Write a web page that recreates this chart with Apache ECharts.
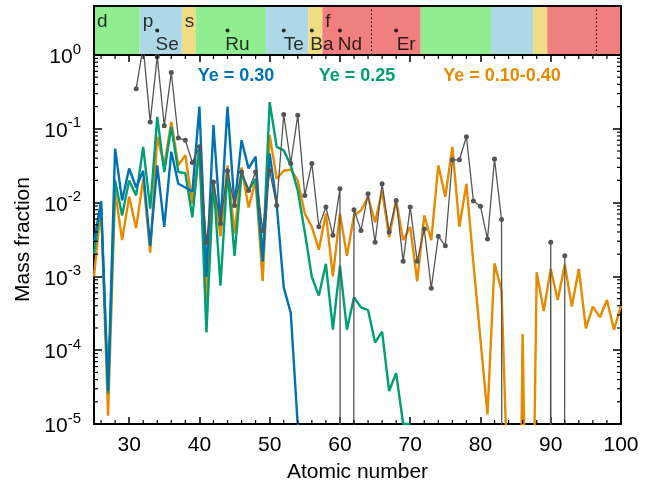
<!DOCTYPE html>
<html><head><meta charset="utf-8">
<script src="https://cdn.jsdelivr.net/npm/echarts@6/dist/echarts.min.js"></script>
<style>html,body{margin:0;padding:0;background:#fff}#c{width:645px;height:486px}</style>
</head><body><div id="c"></div>
<script>
// Atomic numbers (x categories)
const Z = [25,26,27,28,29,30,31,32,33,34,35,36,37,38,39,40,41,42,43,44,45,46,47,48,49,50,
  51,52,53,54,55,56,57,58,59,60,61,62,63,64,65,66,67,68,69,70,71,72,73,74,75,
  76,77,78,79,80,81,82,83,84,85,86,87,88,89,90,91,92,93,94,95,96,97,98,99,100];

// Ye = 0.30
const ye030 = [0.003,0.0102,2.8e-5,0.054,0.0107,0.029,0.016,0.027,0.0026,0.032,0.0047,0.049,0.018,0.016,0.014,0.2,
  0.00098,0.112,0.005,0.2,0.009,0.07,0.029,0.042,0.0016,0.046,
  0.0095,7.1e-4,3.2e-4,9.5e-6,null,null,null,null,null,null,null,null,null,null,null,null,null,null,null,null,null,null,null,null,null,
  null,null,null,null,null,null,null,null,null,null,null,null,null,null,null,null,null,null,null,null,null,null,null,null,null];

// Ye = 0.25
const ye025 = [0.002,0.0105,2.6e-5,0.020,0.0067,0.020,0.0125,0.057,0.0083,0.145,0.026,0.106,0.026,0.025,0.0063,0.057,
  1.74e-4,0.02,7.5e-4,0.027,0.0019,0.025,0.0147,0.021,0.0016,0.23,
  0.057,0.051,0.032,0.0146,0.004,9.8e-4,5.5e-4,0.00148,1.9e-4,0.0014,1.9e-4,5.2e-4,3.8e-4,3.5e-4,1.27e-4,1.78e-4,2.8e-5,4.9e-5,1.0e-5,1.0e-5,null,null,null,null,null,
  null,null,null,null,null,null,null,null,null,null,null,null,null,null,null,null,null,null,null,null,null,null,null,null,null];

// Ye = 0.10-0.40
const yeMix = [0.001,0.009,1.3e-5,0.0146,0.0031,0.012,0.0045,0.021,0.0021,0.078,0.032,0.124,0.032,0.044,0.0098,0.057,
  4.7e-4,0.019,0.0035,0.032,0.0038,0.03,0.0086,0.02,8.6e-4,0.082,
  0.021,0.027,0.028,0.02,0.0071,0.0047,0.0023,0.0071,0.0010,0.0071,0.0019,0.0067,0.0078,0.012,0.0054,0.0146,0.0034,0.0107,0.0031,0.0047,8.6e-4,0.0067,0.0031,0.032,0.012,
  0.057,0.0047,0.018,0.0015,1.4e-4,1.35e-5,0.0015,6.4e-4,6e-7,1e-12,1.66e-4,1.5e-10,0.00114,3.4e-4,0.00126,4.8e-4,0.00145,3.9e-4,0.00126,1.97e-4,3.9e-4,2.8e-4,4.8e-4,1.9e-4,4.0e-4];

// Solar r-process (0 = absent)
const solar = [null,null,null,null,null,null,0.35,1.3,0.124,0.95,0.11,0.58,0.075,0.07,0.035,0.057,
  0.0029,0.019,0.0052,0.027,0.0091,0.026,0.0146,0.026,0.0042,0.027,
  0.0091,0.156,0.034,0.153,0.0125,0.034,0.0047,0.0087,0.0036,0.0154,0,0.008,0.0042,0.0132,0.0029,0.018,0.004,0.0107,0.0016,0.0087,0.0016,0.0044,6.9e-4,0.0035,0.0026,
  0.038,0.038,0.078,0.0105,0.0089,0.0032,0.039,0.0059,0,0,0,0,0,0,0.0029,0,0.0019,null,null,null,null,null,null,null,null];

// Periodic-table blocks in the top band
const blockStart = [25, 31.5, 37.5, 39.5, 49.5, 55.5, 57.5, 71.5, 81.5, 87.5, 89.5];
const blockEnd   = [31.5, 37.5, 39.5, 49.5, 55.5, 57.5, 71.5, 81.5, 87.5, 89.5, 100];
const blockKind  = ['d','p','s','d','p','s','f','d','p','s','f'];
const blockLetterAt = [25, 31.5, 37.5, 57.5];
const blockLetters  = ['d','p','s','f'];
const dottedAt = [64.5, 96.5];
const elemZ    = [34, 44, 52, 56, 60, 68];
const elemName = ['Se','Ru','Te','Ba','Nd','Er'];

const kindColor = {d:'#90ee90', p:'#add8e6', s:'#eedd82', f:'#f08080'};
const C_BLUE = '#0072b2', C_GREEN = '#009e73', C_ORANGE = '#e68a00', C_GRAY = '#555555';

const pairs = arr => Z.map((z, i) => [z, arr[i] === null ? null : (arr[i] === 0 ? 1e-100 : arr[i])]);

const minorX = []; for (let z = 26; z < 100; z += 2) if (z % 10 !== 0) minorX.push(z);
const minorY = []; for (let k = -5; k < 0; k++) for (let m = 2; m <= 9; m++) minorY.push(m * Math.pow(10, k));

const chart = echarts.init(document.getElementById('c'), null, {renderer: 'canvas'});
const FONT = 'Liberation Sans, Arial, sans-serif';

function ln(x1, y1, x2, y2, w, dash) {
  return {type: 'line', shape: {x1, y1, x2, y2}, style: {stroke: '#000', lineWidth: w || 1, lineDash: dash || null}};
}

chart.setOption({
  animation: false,
  grid: [
    {left: 94, right: 24, top: 55, bottom: 62, containLabel: false, outerBoundsMode: 'none'},
    {left: 94, right: 24, top: 6, height: 49, containLabel: false, outerBoundsMode: 'none'}
  ],
  xAxis: [
    {gridIndex: 0, type: 'value', min: 25, max: 100, splitNumber: 8, position: 'bottom',
     name: 'Atomic number', nameLocation: 'middle', nameGap: 38,
     nameTextStyle: {fontSize: 21, color: '#000', fontFamily: FONT},
     axisLine: {lineStyle: {color: '#000', width: 2}},
     axisTick: {inside: true, length: 7, lineStyle: {color: '#000', width: 1.5}},
     axisLabel: {fontSize: 21, color: '#000', fontFamily: FONT, margin: 11,
       formatter: v => (v % 10 === 0 ? String(v) : '')},
     splitLine: {show: false}},
    {gridIndex: 0, type: 'value', min: 25, max: 100, splitNumber: 8, position: 'top',
     axisLine: {lineStyle: {color: '#000', width: 2}},
     axisTick: {inside: true, length: 7, lineStyle: {color: '#000', width: 1.5}},
     axisLabel: {show: false}, splitLine: {show: false}},
    {gridIndex: 1, type: 'value', min: 25, max: 100, show: false}
  ],
  yAxis: [
    {gridIndex: 0, type: 'log', logBase: 10, min: 1e-5, max: 1, position: 'left',
     name: 'Mass fraction', nameLocation: 'middle', nameGap: 54, nameRotate: 90,
     nameTextStyle: {fontSize: 21, color: '#000', fontFamily: FONT},
     axisLine: {lineStyle: {color: '#000', width: 2}},
     axisTick: {inside: true, length: 8, lineStyle: {color: '#000', width: 1.5}},
     axisLabel: {margin: 13, fontFamily: FONT,
       formatter: v => '{b|10}{s|' + Math.round(Math.log10(v)) + '}',
       rich: {b: {fontSize: 21, color: '#000', fontFamily: FONT, lineHeight: 26, verticalAlign: 'bottom'},
              s: {fontSize: 15, color: '#000', fontFamily: FONT, verticalAlign: 'top', lineHeight: 22}}},
     splitLine: {show: false}},
    {gridIndex: 0, type: 'log', logBase: 10, min: 1e-5, max: 1, position: 'right',
     axisLine: {lineStyle: {color: '#000', width: 2}},
     axisTick: {inside: true, length: 8, lineStyle: {color: '#000', width: 1.5}},
     axisLabel: {show: false}, splitLine: {show: false}},
    {gridIndex: 1, type: 'value', min: 0, max: 1, show: false}
  ],
  graphic: [
    {type: 'text', x: 236, y: 76, style: {text: 'Ye = 0.30', fill: C_BLUE, font: 'bold 18px ' + FONT, textAlign: 'center', textVerticalAlign: 'middle'}},
    {type: 'text', x: 357, y: 76, style: {text: 'Ye = 0.25', fill: C_GREEN, font: 'bold 18px ' + FONT, textAlign: 'center', textVerticalAlign: 'middle'}},
    {type: 'text', x: 502, y: 76, style: {text: 'Ye = 0.10-0.40', fill: C_ORANGE, font: 'bold 18px ' + FONT, textAlign: 'center', textVerticalAlign: 'middle'}}
  ],
  series: [
    {type: 'custom', xAxisIndex: 2, yAxisIndex: 2, silent: true,
     data: blockStart.map((s, i) => [s, blockEnd[i], i]),
     renderItem: (params, api) => {
       const i = api.value(2);
       const p0 = api.coord([api.value(0), 0]);
       const p1 = api.coord([api.value(1), 1]);
       return {type: 'rect', shape: {x: p0[0], y: p1[1], width: p1[0] - p0[0], height: p0[1] - p1[1]},
               style: {fill: kindColor[blockKind[i]]}};
     }},
    {type: 'custom', xAxisIndex: 2, yAxisIndex: 2, silent: true, z: 3,
     data: [[25, 0]],
     renderItem: (params, api) => {
       const ch = [];
       dottedAt.forEach(z => {
         const a = api.coord([z, 0]), b = api.coord([z, 1]);
         ch.push(ln(a[0], a[1], b[0], b[1], 1, [1.5, 2.5]));
       });
       const p0 = api.coord([25, 0]), p1 = api.coord([100, 1]);
       ch.push({type: 'rect', shape: {x: p0[0], y: p1[1], width: p1[0] - p0[0], height: p0[1] - p1[1]},
                style: {fill: 'none', stroke: '#000', lineWidth: 2}});
       return {type: 'group', children: ch};
     }},
    {type: 'scatter', xAxisIndex: 2, yAxisIndex: 2, silent: true, symbolSize: 0, z: 4,
     data: blockLetterAt.map((z, i) => ({value: [z, 0.67], name: blockLetters[i]})),
     label: {show: true, position: 'right', distance: 3, formatter: p => p.name,
             fontSize: 19, color: '#000', fontFamily: FONT}},
    {type: 'scatter', xAxisIndex: 2, yAxisIndex: 2, silent: true, symbol: 'circle', symbolSize: 4, z: 4,
     itemStyle: {color: '#000'},
     data: elemZ.map((z, i) => ({value: [z, 0.5], name: elemName[i]})),
     label: {show: true, position: 'inside', offset: [10, 14], formatter: p => p.name,
             fontSize: 19, color: '#000', fontFamily: FONT}},
    {type: 'line', name: 'Ye=0.10-0.40', data: pairs(yeMix), showSymbol: false, clip: true,
     lineStyle: {color: C_ORANGE, width: 2.4}, itemStyle: {color: C_ORANGE}, z: 2},
    {type: 'line', name: 'Ye=0.25', data: pairs(ye025), showSymbol: false, clip: true,
     lineStyle: {color: C_GREEN, width: 2.4}, itemStyle: {color: C_GREEN}, z: 3},
    {type: 'line', name: 'Ye=0.30', data: pairs(ye030), showSymbol: false, clip: true,
     lineStyle: {color: C_BLUE, width: 2.4}, itemStyle: {color: C_BLUE}, z: 4},
    {type: 'line', name: 'solar', data: pairs(solar), clip: true, symbol: 'circle', symbolSize: 5, showAllSymbol: true,
     lineStyle: {color: C_GRAY, width: 1.3}, itemStyle: {color: C_GRAY}, z: 5},
    {type: 'custom', xAxisIndex: 0, yAxisIndex: 0, silent: true, z: 6,
     data: [[25, 1e-5]],
     renderItem: (params, api) => {
       const ch = [];
       const yb = api.coord([25, 1e-5])[1], yt = api.coord([25, 1])[1];
       const xl = api.coord([25, 1e-5])[0], xr = api.coord([100, 1e-5])[0];
       minorX.forEach(z => {
         const x = api.coord([z, 1e-5])[0];
         ch.push(ln(x, yb, x, yb - 4, 1.2));
         ch.push(ln(x, yt, x, yt + 4, 1.2));
       });
       minorY.forEach(v => {
         const y = api.coord([25, v])[1];
         ch.push(ln(xl, y, xl + 4, y, 1.2));
         ch.push(ln(xr, y, xr - 4, y, 1.2));
       });
       return {type: 'group', children: ch};
     }}
  ]
});
</script>
</body></html>
